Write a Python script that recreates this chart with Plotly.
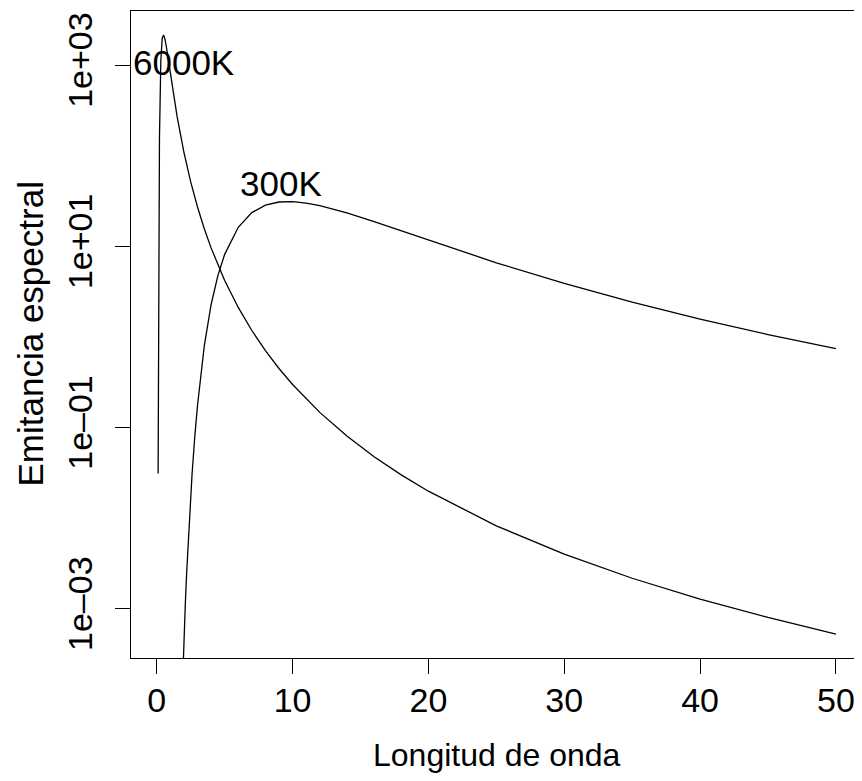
import math
import plotly.graph_objects as go

# Wavelength (x) and spectral emittance (y)
lam_6000 = [0.1, 0.2, 0.3, 0.4, 0.5, 0.6, 0.7, 0.8, 0.9, 1.0, 1.2, 1.5, 2.0, 2.5,
            3.0, 3.5, 4.0, 4.5, 5.0, 6.0, 7.0, 8.0, 9.0, 10.0, 12.0, 14.0, 16.0,
            18.0, 20.0, 25.0, 30.0, 35.0, 40.0, 45.0, 50.0]
em_6000 = [0.0312, 157.0, 1125, 1975, 2158, 1950, 1620, 1298, 1027, 809.6, 510.5,
           270.1, 109.2, 51.5, 27.22, 15.66, 9.627, 6.234, 4.208, 2.119, 1.179,
           0.7068, 0.4491, 0.2988, 0.1472, 0.0806, 0.04775, 0.03006, 0.01986,
           0.008235, 0.004005, 0.002174, 0.001280, 0.000802, 0.000527]

lam_300 = [1.8, 1.9, 2.0, 2.1, 2.2, 2.4, 2.6, 2.8, 3.0, 3.5, 4.0, 4.5, 5.0, 6.0,
           7.0, 8.0, 9.0, 10.0, 11.0, 12.0, 14.0, 16.0, 18.0, 20.0, 25.0, 30.0,
           35.0, 40.0, 45.0, 50.0]
em_300 = [5.32e-5, 1.65e-4, 4.51e-4, 1.107e-3, 2.47e-3, 9.84e-3, 0.0307, 0.0791,
          0.1754, 0.798, 2.27, 4.76, 8.17, 16.26, 23.58, 28.51, 30.89, 31.18,
          30.07, 28.15, 23.39, 18.75, 14.83, 11.70, 6.596, 3.901, 2.427, 1.578,
          1.065, 0.7437]

x_ticks = [0, 10, 20, 30, 40, 50]
y_tick_vals = [1e-3, 1e-1, 1e1, 1e3]
y_tick_text = ["1e\u201303", "1e\u201301", "1e+01", "1e+03"]

curve_labels = ["6000K", "300K"]
label_x = [2, 9]
label_y = [1000, 50]

FONT = "Liberation Sans, Arial, Helvetica, sans-serif"

# page has a body offset; plot area should sit at x 130..862, y 11..658
L, T = 123, 3
PW, PH = 732, 647
W, H = 862, 781

fig = go.Figure()
fig.add_trace(go.Scatter(x=lam_6000, y=em_6000, mode="lines",
                         line=dict(color="black", width=1.3), showlegend=False))
fig.add_trace(go.Scatter(x=lam_300, y=em_300, mode="lines",
                         line=dict(color="black", width=1.3), showlegend=False))

shifts = [(0, 3), (2, 0)]
for t, xv, yv, (dx, dy) in zip(curve_labels, label_x, label_y, shifts):
    fig.add_annotation(x=xv, y=math.log10(yv), xref="x", yref="y", text=t,
                       showarrow=False, xanchor="center", yanchor="middle",
                       xshift=dx, yshift=dy,
                       font=dict(family=FONT, size=35, color="black"))

fig.add_annotation(x=0.5, y=-97 / PH, xref="paper", yref="paper",
                   text="Longitud de onda", showarrow=False,
                   xanchor="center", yanchor="middle",
                   font=dict(family=FONT, size=32, color="black"))
fig.add_annotation(x=-101 / PW, y=0.5, xref="paper", yref="paper",
                   text="Emitancia espectral", showarrow=False, textangle=-90,
                   xanchor="center", yanchor="middle",
                   font=dict(family=FONT, size=35, color="black"))

fig.update_layout(
    width=W, height=H,
    margin=dict(l=L, r=W - L - PW, t=T, b=H - T - PH),
    paper_bgcolor="white", plot_bgcolor="white",
    font=dict(family=FONT, color="black"),
    xaxis=dict(range=[-1.896, 51.996], tickvals=x_ticks,
               ticks="outside", ticklen=15, tickwidth=1, tickcolor="black",
               showline=True, linecolor="black", linewidth=1, mirror=True,
               showgrid=False, zeroline=False,
               tickfont=dict(family=FONT, size=34, color="black"),
               ticklabelstandoff=-3),
    yaxis=dict(type="log", range=[-3.543, 3.598], tickvals=y_tick_vals,
               ticktext=y_tick_text, tickangle=-90,
               ticks="outside", ticklen=15, tickwidth=1, tickcolor="black",
               showline=True, linecolor="black", linewidth=1, mirror=True,
               showgrid=False, zeroline=False,
               tickfont=dict(family=FONT, size=34, color="black"),
               ticklabelstandoff=9),
)

fig.write_html("out.html")
